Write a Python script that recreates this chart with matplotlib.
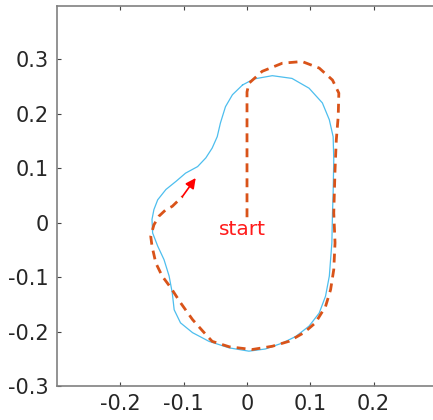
import matplotlib
matplotlib.use('Agg')
import matplotlib.pyplot as plt

# measured contour (solid cyan), clockwise from the top
contour_x = [-0.007, 0.011, 0.040, 0.071, 0.098, 0.119, 0.130, 0.136, 0.137, 0.136,
             0.135, 0.134, 0.130, 0.124, 0.114, 0.098, 0.077, 0.056, 0.029, 0.003,
             -0.028, -0.060, -0.086, -0.105, -0.115, -0.118, -0.123, -0.131, -0.141, -0.149,
             -0.150, -0.147, -0.141, -0.128, -0.112, -0.097, -0.078, -0.065, -0.055, -0.047,
             -0.042, -0.034, -0.023, -0.007]
contour_y = [0.253, 0.264, 0.270, 0.265, 0.247, 0.220, 0.189, 0.158, 0.116, 0.054,
             0.018, -0.037, -0.098, -0.135, -0.166, -0.190, -0.209, -0.221, -0.232, -0.236,
             -0.230, -0.218, -0.202, -0.184, -0.160, -0.129, -0.098, -0.068, -0.043, -0.019,
             0.006, 0.024, 0.042, 0.061, 0.076, 0.091, 0.103, 0.119, 0.137, 0.158,
             0.183, 0.213, 0.235, 0.253]

# planned path (dashed orange), starting at the origin
path_x = [0.000, 0.000, 0.003, 0.024, 0.056, 0.087, 0.114, 0.135, 0.145, 0.144,
          0.141, 0.139, 0.137, 0.139, 0.137, 0.132, 0.124, 0.108, 0.090, 0.066,
          0.040, 0.008, -0.028, -0.055, -0.070, -0.086, -0.105, -0.120, -0.134, -0.144,
          -0.150, -0.152, -0.147, -0.139, -0.128, -0.118, -0.102]
path_y = [0.010, 0.240, 0.256, 0.278, 0.293, 0.296, 0.284, 0.262, 0.238, 0.195,
          0.152, 0.097, 0.018, -0.037, -0.086, -0.123, -0.154, -0.184, -0.202, -0.218,
          -0.227, -0.233, -0.228, -0.218, -0.199, -0.178, -0.147, -0.120, -0.098, -0.074,
          -0.043, -0.025, -0.004, 0.012, 0.024, 0.030, 0.048]
arrow_tip = (-0.081, 0.082)

x_ticks = [-0.2, -0.1, 0, 0.1, 0.2]
y_ticks = [-0.3, -0.2, -0.1, 0, 0.1, 0.2, 0.3]

fig = plt.figure(figsize=(4.33, 4.2), dpi=100)
ax = fig.add_axes([57 / 433, 34 / 420, 380 / 433, 380 / 420])

ax.plot(contour_x, contour_y, color='#4DBEEE', linewidth=0.9)
ax.plot(path_x, path_y, color='#D95319', linewidth=2, linestyle=(0, (3.2, 2.2)))
ax.annotate('', xy=arrow_tip, xytext=(path_x[-1], path_y[-1]),
            arrowprops=dict(arrowstyle='-|>', color='red', lw=1.2,
                            mutation_scale=15, shrinkA=0, shrinkB=0))
ax.text(-0.007, -0.013, 'start', color='#FF1A1A', fontsize=14.5,
        ha='center', va='center')

ax.set_xlim(-0.3, 0.3)
ax.set_ylim(-0.3, 0.398)
ax.set_xticks(x_ticks)
ax.set_xticklabels(['-0.2', '-0.1', '0', '0.1', '0.2'])
ax.set_yticks(y_ticks)
ax.set_yticklabels(['-0.3', '-0.2', '-0.1', '0', '0.1', '0.2', '0.3'])
ax.tick_params(direction='in', length=3, width=0.8, color='#444444',
               labelsize=15, labelcolor='#262626', top=True, right=True, pad=6)
for s in ax.spines.values():
    s.set_color('#808080')
    s.set_linewidth(1.2)

fig.savefig('out.png', dpi=100)
